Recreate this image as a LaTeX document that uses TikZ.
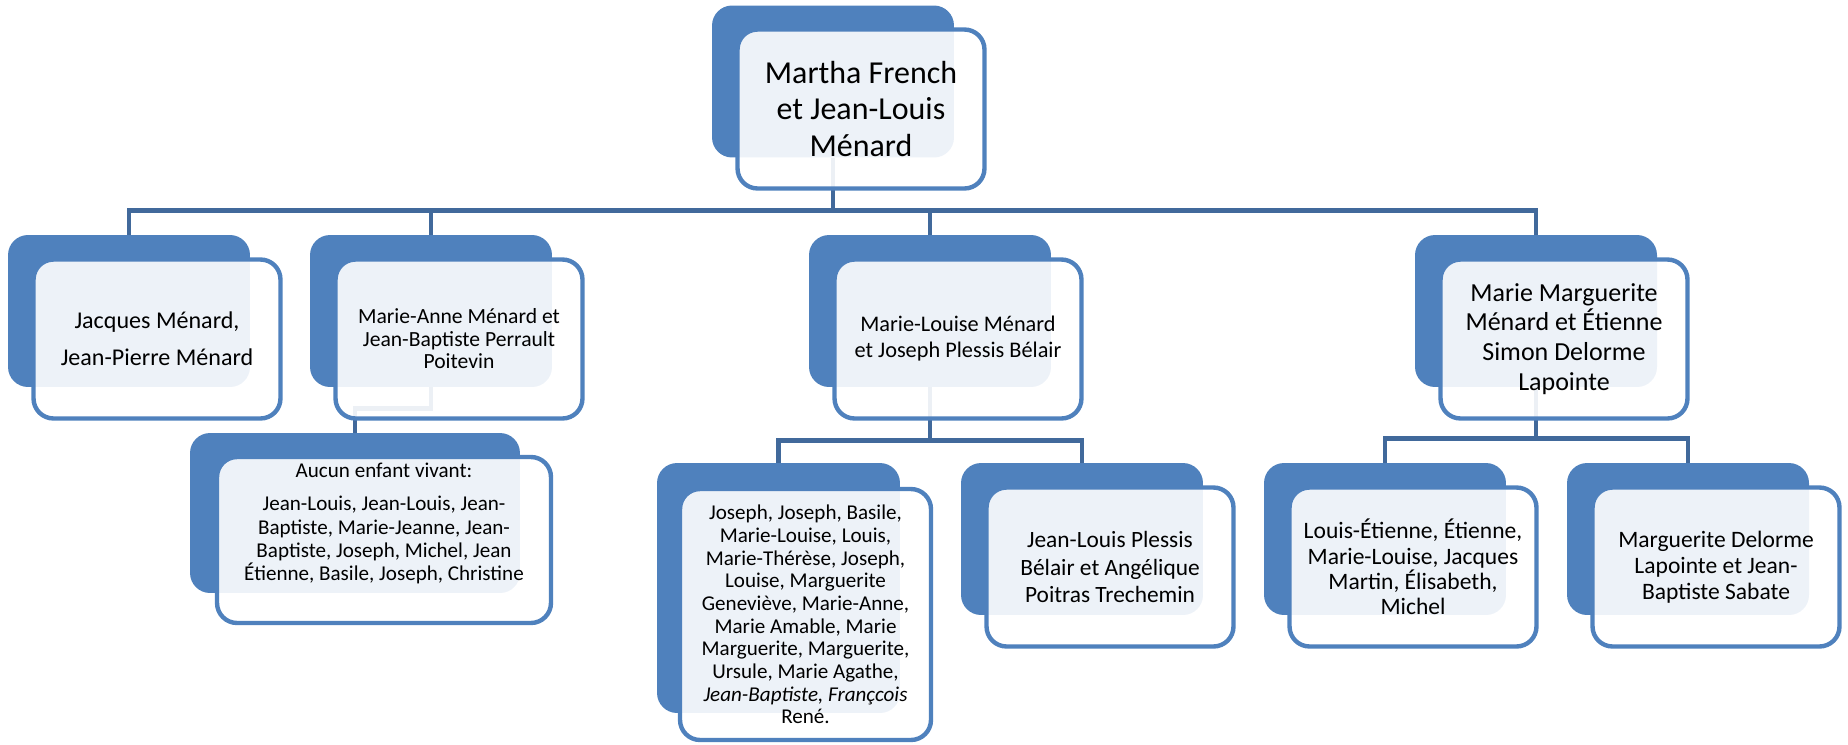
\documentclass[tikz,border=0pt]{standalone}
\usepackage{fontspec}
\setmainfont{Carlito}
\usepackage{xcolor}

\definecolor{boxblue}{RGB}{79,129,189}
\definecolor{linkblue}{RGB}{65,105,155}

\tikzset{
    back/.style={rectangle, rounded corners=0.4cm, fill=boxblue, minimum width=4.84cm, minimum height=3.04cm, inner sep=0pt},
    front/.style={rectangle, rounded corners=0.4cm, draw=boxblue, line width=2.5pt, fill=white, fill opacity=0.9, text opacity=1, minimum width=4.94cm, minimum height=3.18cm, align=center, inner sep=2pt},
    link/.style={draw=linkblue, line width=2.8pt}
}

\begin{document}
\begin{tikzpicture}[x=0.02cm, y=-0.02cm]
                        \useasboundingbox (0,0) rectangle (1848,744);

                        % back boxes
                        \node[back] (martha-b) at (833,81.5) {};
                        \node[back] (jacques-b) at (129,311) {};
                        \node[back] (marieanne-b) at (431,311) {};
                        \node[back] (marielouise-b) at (930,311) {};
                        \node[back] (mariemarg-b) at (1536,311) {};
                        \node[back, minimum width=6.6cm, minimum height=3.2cm] (aucun-b) at (355,513) {};
                        \node[back, minimum width=4.86cm, minimum height=5cm] (joseph-b) at (778.5,588) {};
                        \node[back] (jlp-b) at (1082,539) {};
                        \node[back] (louis-b) at (1385,539) {};
                        \node[back] (margdel-b) at (1688,539) {};

                        % links
                        \draw[link] (martha-b.south) -- ++(0,53) -| (jacques-b.north);
                        \draw[link] (martha-b.south) -- ++(0,53) -| (marieanne-b.north);
                        \draw[link] (martha-b.south) -- ++(0,53) -| (marielouise-b.north);
                        \draw[link] (martha-b.south) -- ++(0,53) -| (mariemarg-b.north);
                        \draw[link] (marieanne-b.south) -- ++(0,21) -| (aucun-b.north);
                        \draw[link] (marielouise-b.south) -- ++(0,53) -| (joseph-b.north);
                        \draw[link] (marielouise-b.south) -- ++(0,53) -| (jlp-b.north);
                        \draw[link] (mariemarg-b.south) -- ++(0,51) -| (louis-b.north);
                        \draw[link] (mariemarg-b.south) -- ++(0,51) -| (margdel-b.north);

                        % front boxes
                        \node[front, font={\fontsize{18.2}{21}\selectfont}] (martha) at (861,109) {Martha French\\et Jean-Louis\\Ménard};
                        \node[front, font={\fontsize{13.7}{21}\selectfont}] (jacques) at (157,339) {Jacques Ménard,\\Jean-Pierre Ménard};
                        \node[front, font={\fontsize{12.3}{12.8}\selectfont}] (marieanne) at (459,339) {Marie-Anne Ménard et\\Jean-Baptiste Perrault\\Poitevin};
                        \node[front, font={\fontsize{12.7}{14.8}\selectfont}] (marielouise) at (958,339) {Marie-Louise Ménard\\et Joseph Plessis Bélair};
                        \node[front, font={\fontsize{14.8}{17}\selectfont}] (mariemarg) at (1564,339) {Marie Marguerite\\Ménard et Étienne\\Simon Delorme\\Lapointe};
                        \node[front, minimum width=6.68cm, minimum height=3.32cm, font={\fontsize{12}{13.3}\selectfont}] (aucun) at (384,540)
                            {Aucun enfant vivant:\\[0.19cm]Jean-Louis, Jean-Louis, Jean-\\Baptiste, Marie-Jeanne, Jean-\\Baptiste, Joseph, Michel, Jean\\Étienne, Basile, Joseph, Christine\\[0.25cm]\mbox{}};
                        \node[front, minimum width=5.02cm, minimum height=5.02cm, font={\fontsize{12}{12.9}\selectfont}] (joseph) at (805.5,614.5)
                            {Joseph, Joseph, Basile,\\Marie-Louise, Louis,\\Marie-Thérèse, Joseph,\\Louise, Marguerite\\Geneviève, Marie-Anne,\\Marie Amable, Marie\\Marguerite, Marguerite,\\Ursule, Marie Agathe,\\\textit{Jean-Baptiste, Françcois}\\René.};
                        \node[front, font={\fontsize{13.3}{15.4}\selectfont}] (jlp) at (1110,567) {Jean-Louis Plessis\\Bélair et Angélique\\Poitras Trechemin};
                        \node[front, font={\fontsize{13.4}{14.5}\selectfont}] (louis) at (1413,567) {Louis-Étienne, Étienne,\\Marie-Louise, Jacques\\Martin, Élisabeth,\\Michel};
                        \node[front, font={\fontsize{13.4}{14.8}\selectfont}] (margdel) at (1716,567) {Marguerite Delorme\\Lapointe et Jean-\\Baptiste Sabate};
\end{tikzpicture}
\end{document}
